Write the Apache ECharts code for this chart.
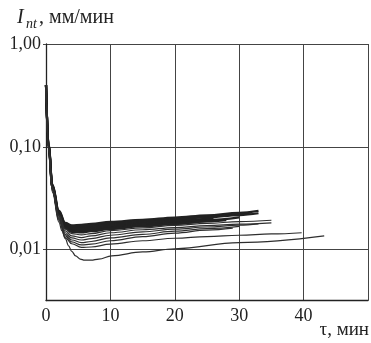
<!DOCTYPE html>
<html><head><meta charset="utf-8">
<script src="https://cdn.jsdelivr.net/npm/echarts@6/dist/echarts.min.js"></script>
<style>html,body{margin:0;padding:0;background:#fff}#c{width:371px;height:343px}</style>
</head><body><div id="c"></div>
<script>
// tick labels
const yTickValues = [1, 0.1, 0.01];
const yTickLabels = ['1,00', '0,10', '0,01'];
const xTickValues = [0, 10, 20, 30, 40];
const xTitle = 'τ, мин';
const yTitleMain = 'I';
const yTitleSub = 'nt';
const yTitleRest = ', мм/мин';

// curves: [τ (min), I_nt (mm/min)]
const curveA1 = [[0,0.4],[0.4,0.105],[1,0.043],[2,0.024],[3,0.0182],[4,0.0172],[5.5,0.0174],[7,0.0178],[10,0.0186],[15,0.0195],[20,0.0205],[25,0.0216],[30,0.0228],[33,0.0238]];
const curveA2 = [[0,0.4],[0.4,0.104],[1,0.042],[2,0.0235],[3,0.0178],[4,0.0168],[5.5,0.0169],[7,0.0173],[10,0.0181],[15,0.0190],[20,0.0200],[25,0.0211],[30,0.0223],[32,0.0230]];
const curveA3 = [[0,0.4],[0.4,0.103],[1,0.042],[2,0.023],[3,0.0175],[4,0.0164],[5.5,0.0165],[7,0.0169],[10,0.0177],[15,0.0186],[20,0.0196],[25,0.0206],[30,0.0217],[33,0.0226]];
const curveA4 = [[0,0.4],[0.4,0.102],[1,0.041],[2,0.0228],[3,0.0172],[4,0.0161],[5.5,0.0161],[7,0.0165],[10,0.0173],[15,0.0182],[20,0.0192],[26,0.0204]];
const curveA5 = [[0,0.4],[0.4,0.101],[1,0.041],[2,0.0225],[3,0.0169],[4,0.0157],[5.5,0.0157],[7,0.0161],[10,0.0169],[15,0.0178],[20,0.0187],[25,0.0197]];
const curveA6 = [[0,0.4],[0.4,0.100],[1,0.040],[2,0.0222],[3,0.0166],[4,0.0154],[5.5,0.0153],[7,0.0157],[10,0.0165],[15,0.0175],[20,0.0184],[25,0.0194],[30,0.0206]];
const curveA7 = [[0,0.4],[0.4,0.099],[1,0.040],[2,0.0220],[3,0.0164],[4,0.0151],[5.5,0.0150],[7,0.0154],[10,0.0162],[15,0.0171],[20,0.0180],[25,0.0190]];
const curveA8 = [[0,0.4],[0.4,0.098],[1,0.040],[2,0.0218],[3,0.0162],[4,0.0149],[5.5,0.0147],[7,0.0151],[10,0.0159],[15,0.0169],[20,0.0178],[25,0.0188],[28,0.0194]];
const curveB1 = [[0,0.4],[0.4,0.098],[1,0.040],[2,0.0215],[3,0.0158],[4,0.0143],[5.5,0.0139],[7,0.0143],[10,0.0153],[15,0.0163],[20,0.0172],[25,0.0180],[30,0.0187],[35,0.0193]];
const curveB2 = [[0,0.4],[0.4,0.097],[1,0.039],[2,0.0210],[3,0.0152],[4,0.0136],[5.5,0.0131],[7,0.0136],[10,0.0146],[15,0.0156],[20,0.0164],[25,0.0171],[30,0.0177],[35,0.0182]];
const curveB3 = [[0,0.4],[0.4,0.096],[1,0.039],[2,0.0205],[3,0.0146],[4,0.0130],[5.5,0.0124],[7,0.0128],[10,0.0138],[15,0.0149],[20,0.0158],[25,0.0166],[30,0.0173],[33,0.0178]];
const curveB4 = [[0,0.4],[0.4,0.096],[1,0.038],[2,0.0200],[3,0.0141],[4,0.0124],[5.5,0.0117],[7,0.0120],[10,0.0130],[15,0.0141],[20,0.0151],[25,0.0160],[30,0.0168]];
const curveB5 = [[0,0.4],[0.4,0.095],[1,0.038],[2,0.0196],[3,0.0136],[4,0.0119],[5.5,0.0111],[7,0.0113],[10,0.0122],[15,0.0134],[20,0.0145],[25,0.0155],[29,0.0162]];
const curveB6 = [[0,0.4],[0.4,0.095],[1,0.037],[2,0.0192],[3,0.0131],[4,0.0114],[5.5,0.0105],[7,0.0106],[10,0.0113],[15,0.0122],[20,0.0129],[25,0.0134],[30,0.0138],[35,0.0142],[39.7,0.0146]];
const curveC1 = [[0,0.4],[0.4,0.094],[1,0.036],[2,0.0185],[2.5,0.0152],[3,0.0128],[3.5,0.0109],[4,0.0096],[4.6,0.0087],[5.3,0.0081],[6,0.0079],[7,0.0079],[8.2,0.0081],[10.2,0.0087],[15,0.0095],[20,0.0102],[30,0.0117],[43.2,0.0136]];

const bandCurves = [curveA1, curveA2, curveA3, curveA4, curveA5, curveA6, curveA7, curveA8];
const thinCurves = [curveB1, curveB2, curveB3, curveB4, curveB5, curveB6, curveC1];

const FONT = '"Liberation Serif", "DejaVu Serif", serif';
const chart = echarts.init(document.getElementById('c'), null, {renderer: 'canvas'});

function mk(d, w, c) {
  return {type: 'line', data: d, showSymbol: false, symbol: 'none', smooth: 0.4, smoothMonotone: 'x',
    lineStyle: {color: c, width: w}, silent: true, animation: false};
}
const series = [];
bandCurves.forEach(d => series.push(mk(d, 2.2, '#222')));
thinCurves.forEach(d => series.push(mk(d, 1.2, '#2e2e2e')));

function yLabel(v) {
  for (let i = 0; i < yTickValues.length; i++) {
    if (Math.abs(Math.log10(v) - Math.log10(yTickValues[i])) < 1e-6) return yTickLabels[i];
  }
  return '';
}

chart.setOption({
  animation: false,
  grid: {left: 46, top: 44, width: 327, height: 256.5, containLabel: false},
  xAxis: {
    type: 'value', min: 0, max: 50, interval: 10,
    axisLine: {lineStyle: {color: '#222', width: 1.3}},
    axisTick: {show: false},
    splitLine: {show: true, lineStyle: {color: '#444', width: 1}},
    axisLabel: {fontFamily: FONT, fontSize: 18, color: '#222', margin: 7,
      formatter: v => (xTickValues.indexOf(v) >= 0 ? String(v) : '')}
  },
  yAxis: {
    type: 'log', logBase: 10, min: 0.0032, max: 1,
    axisLine: {show: true, lineStyle: {color: '#222', width: 1.3}},
    axisTick: {show: true, length: 3, lineStyle: {color: '#444'}},
    splitLine: {show: true, lineStyle: {color: '#444', width: 1}},
    axisLabel: {fontFamily: FONT, fontSize: 18, color: '#222', margin: 5, showMinLabel: false, formatter: yLabel}
  },
  graphic: [
    {type: 'text', left: 17, top: 8, style: {text: yTitleMain, font: 'italic 20px ' + FONT, fill: '#222'}},
    {type: 'text', left: 26, top: 17, style: {text: yTitleSub, font: 'italic 14px ' + FONT, fill: '#222'}},
    {type: 'text', left: 39, top: 8, style: {text: yTitleRest, font: '20px ' + FONT, fill: '#222'}},
    {type: 'text', right: 2, top: 321, style: {text: xTitle, font: '19px ' + FONT, fill: '#222'}}
  ],
  series: series
});
</script>
</body></html>
